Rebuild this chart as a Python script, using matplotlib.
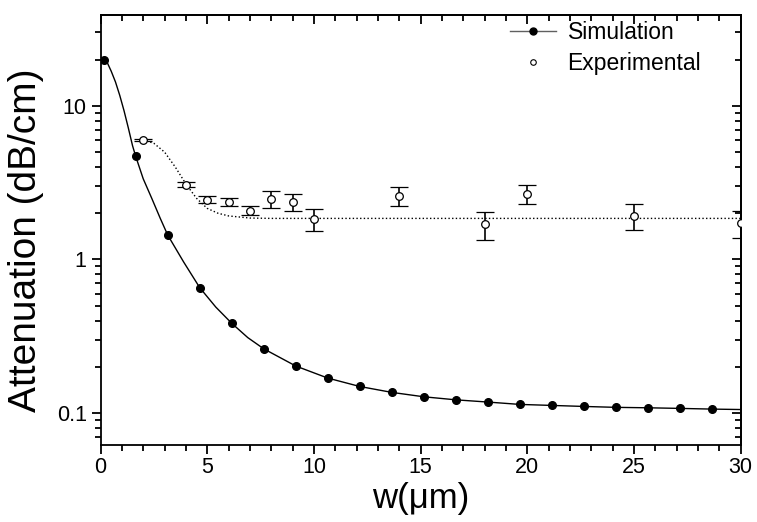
import numpy as np
import matplotlib
matplotlib.use("Agg")
import matplotlib.pyplot as plt
from matplotlib.ticker import MultipleLocator, LogLocator, NullFormatter, FixedLocator, FixedFormatter

# --- data ---
sim_x = [0.15, 1.65, 3.15, 4.65, 6.15, 7.65, 9.15, 10.65, 12.15, 13.65,
         15.15, 16.65, 18.15, 19.65, 21.15, 22.65, 24.15, 25.65, 27.15, 28.65]
sim_y = [20.0, 4.68, 1.44, 0.655, 0.384, 0.262, 0.2025, 0.169, 0.149, 0.1364,
         0.1277, 0.122, 0.118, 0.1139, 0.1122, 0.1105, 0.109, 0.1083, 0.1073, 0.1062]

# solid fit curve
fit_x = [0.15, 0.3, 0.5, 0.7, 0.9, 1.1, 1.3, 1.5, 1.65, 2.0, 2.4, 2.8, 3.15, 3.9,
         4.65, 5.4, 6.15, 6.9, 7.65, 9.15, 10.65, 12.15, 13.65, 15.15, 16.65,
         18.15, 19.65, 21.15, 22.65, 24.15, 25.65, 27.15, 28.65, 30.0]
fit_y = [20.0, 19.3, 16.8, 14.3, 11.7, 9.3, 7.2, 5.5, 4.68, 3.35, 2.5, 1.85, 1.44,
         0.96, 0.655, 0.49, 0.384, 0.31, 0.262, 0.2025, 0.169, 0.149, 0.1364,
         0.1277, 0.122, 0.118, 0.1139, 0.1122, 0.1105, 0.109, 0.1083, 0.1073,
         0.1062, 0.1055]

exp_x = [2, 4, 5, 6, 7, 8, 9, 10, 14, 18, 20, 25, 30]
exp_y = [6.0, 3.07, 2.45, 2.37, 2.08, 2.48, 2.37, 1.84, 2.58, 1.69, 2.67, 1.92, 1.72]
exp_err = [0.09, 0.10, 0.135, 0.14, 0.145, 0.31, 0.31, 0.30, 0.36, 0.35, 0.36, 0.36, 0.35]

# dotted fit curve
dot_x = [2.0, 2.5, 3.0, 3.5, 4.0, 4.5, 5.0, 5.5, 6.0, 7.0, 8.0, 30.0]
dot_y = [6.0, 5.7, 5.0, 4.0, 3.1, 2.5, 2.15, 2.0, 1.92, 1.86, 1.85, 1.85]

plt.rcParams['font.family'] = ['Liberation Sans', 'DejaVu Sans']

fig = plt.figure(figsize=(7.57, 5.22), dpi=100)
ax = fig.add_axes([0.1328, 0.1475, 0.9785 - 0.1328, 0.9713 - 0.1475])

ax.plot(fit_x, fit_y, '-', color='black', lw=1.0, zorder=2)
ax.plot(dot_x, dot_y, ':', color='black', lw=1.0, zorder=2)
ax.plot(sim_x, sim_y, 'o', color='black', ms=5.5, zorder=3)
ax.errorbar(exp_x, exp_y, yerr=exp_err, fmt='o', mfc='white', mec='black', mew=0.9,
            ms=5.5, ecolor='black', elinewidth=1.2, capsize=6.5, capthick=1.3,
            zorder=4)

# legend handles
h_sim, = ax.plot([], [], '-o', color='#606060', lw=1.0, ms=5,
                 mfc='black', mec='black')
h_exp, = ax.plot([], [], 'o', mfc='white', mec='black', mew=0.8, ms=4)
ax.legend([h_sim, h_exp], ['Simulation', 'Experimental'], loc='upper left',
          frameon=False, fontsize=16.5, handlelength=2.0, handletextpad=0.5,
          bbox_to_anchor=(0.64, 0.985), borderpad=0, borderaxespad=0,
          labelspacing=0.35)

ax.set_xlim(0, 30)
ax.set_yscale('log')
ax.set_ylim(0.062, 39)

ax.xaxis.set_major_locator(MultipleLocator(5))
ax.xaxis.set_minor_locator(MultipleLocator(1))
ax.yaxis.set_major_locator(FixedLocator([0.1, 1, 10]))
ax.yaxis.set_major_formatter(FixedFormatter(['0.1', '1', '10']))
ax.yaxis.set_minor_locator(LogLocator(base=10, subs=np.arange(2, 10)))
ax.yaxis.set_minor_formatter(NullFormatter())

ax.tick_params(which='both', direction='out', labelsize=15.5, width=1.3,
               top=False, right=False)
ax.tick_params(which='major', length=6.5)
ax.tick_params(which='minor', length=4)
ax.tick_params(axis='x', which='major', pad=2)

for s in ax.spines.values():
    s.set_linewidth(1.3)

# mirrored top / right axes with inward ticks
top = ax.secondary_xaxis('top')
top.xaxis.set_major_locator(MultipleLocator(5))
top.xaxis.set_minor_locator(MultipleLocator(1))
top.tick_params(which='both', direction='in', labeltop=False, width=1.3)
top.tick_params(which='major', length=6.5)
top.tick_params(which='minor', length=4)
top.spines['top'].set_linewidth(1.3)

right = ax.secondary_yaxis('right')
right.set_yscale('log')
right.yaxis.set_major_locator(FixedLocator([0.1, 1, 10]))
right.yaxis.set_minor_locator(LogLocator(base=10, subs=np.arange(2, 10)))
right.yaxis.set_minor_formatter(NullFormatter())
right.tick_params(which='both', direction='in', labelright=False, width=1.3)
right.tick_params(which='major', length=6.5)
right.tick_params(which='minor', length=4)
right.spines['right'].set_linewidth(1.3)

ax.set_xlabel('w(μm)', fontsize=25)
ax.xaxis.set_label_coords(0.5, -0.086)
ax.set_ylabel('Attenuation (dB/cm)', fontsize=28)
ax.yaxis.set_label_coords(-0.088, 0.475)

fig.savefig('out.png', dpi=100)
